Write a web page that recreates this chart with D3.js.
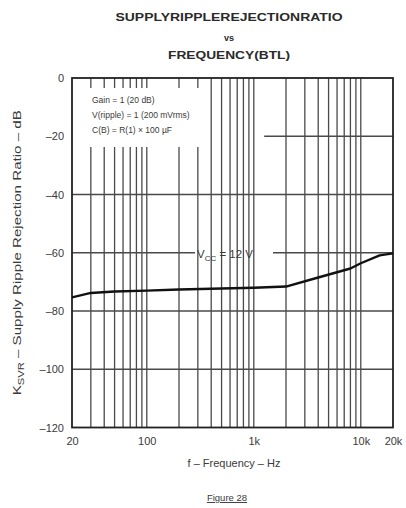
<!DOCTYPE html>
<html>
<head>
<meta charset="utf-8">
<script src="https://cdn.jsdelivr.net/npm/d3@7/dist/d3.min.js"></script>
<style>
  html, body { margin: 0; padding: 0; background: #fff; }
  svg { display: block; font-family: "Liberation Sans", Arial, sans-serif; }
</style>
</head>
<body>
<svg id="chart" width="406" height="508"></svg>
<script>
// Supply ripple rejection ratio of the BTL output versus frequency, VCC = 12 V
const freqHz = [20, 30, 50, 100, 200, 500, 1000, 2000, 4000, 8000, 10000, 15000, 20000];
const ksvrDb = [-75.3, -73.8, -73.3, -73.0, -72.6, -72.3, -72.0, -71.6, -68.5, -65.4, -63.6, -60.9, -60.2];

const yTicks = [0, -20, -40, -60, -80, -100, -120];
const xTickValues = [20, 100, 1000, 10000, 20000];
const xTickLabels = ["20", "100", "1k", "10k", "20k"];

const titleLines = ["SUPPLYRIPPLEREJECTIONRATIO", "vs", "FREQUENCY(BTL)"];
const conditionLines = ["Gain = 1 (20 dB)", "V(ripple) = 1 (200 mVrms)", "C(B) = R(1) × 100 µF"];

const svg = d3.select("#chart");
const plot = { left: 72, right: 393, top: 78, bottom: 427.5 };

const x = d3.scaleLog().domain([20, 20000]).range([plot.left, plot.right]);
const y = d3.scaleLinear().domain([-120, 0]).range([plot.bottom, plot.top]);

const gridColor = "#4a4a4a";
const textColor = "#3a3a3a";

// Title
svg.append("g").selectAll("text").data(titleLines).join("text")
  .attr("x", 229)
  .attr("y", (d, i) => [21, 41, 59][i])
  .attr("text-anchor", "middle")
  .attr("font-size", (d, i) => i === 1 ? 9 : 10.5)
  .attr("font-weight", "bold")
  .attr("fill", "#2a2a2a")
  .attr("textLength", (d, i) => [227, null, 122][i])
  .attr("lengthAdjust", "spacingAndGlyphs")
  .text(d => d);

// Horizontal grid
const hGrid = svg.append("g");
hGrid.selectAll("line").data(yTicks.filter(v => v !== 0 && v !== -120)).join("line")
  .attr("x1", d => d === -20 ? x(1250) : plot.left)
  .attr("x2", plot.right)
  .attr("y1", d => y(d)).attr("y2", d => y(d))
  .attr("stroke", gridColor).attr("stroke-width", 1.3);

// White background behind the curve label (breaks the horizontal line only)
svg.append("rect")
  .attr("x", 195).attr("y", 246).attr("width", 78).attr("height", 14)
  .attr("fill", "#fff");

// Vertical grid: every 1..9 multiple of each decade
const vGridFreqs = x.ticks().filter(f => f > 20 && f < 20000);
svg.append("g").selectAll("line").data(vGridFreqs).join("line")
  .attr("x1", d => x(d)).attr("x2", d => x(d))
  .attr("y1", plot.top).attr("y2", plot.bottom)
  .attr("stroke", gridColor).attr("stroke-width", 1.3);

// Box holding the test conditions
svg.append("rect")
  .attr("x", plot.left + 2).attr("y", 88).attr("width", 131).attr("height", 59)
  .attr("fill", "#fff");

svg.append("g").selectAll("text").data(conditionLines).join("text")
  .attr("x", 92)
  .attr("y", (d, i) => 103 + i * 15)
  .attr("font-size", 8.5)
  .attr("fill", textColor)
  .text(d => d);

// Frame
svg.append("rect")
  .attr("x", plot.left).attr("y", plot.top)
  .attr("width", plot.right - plot.left).attr("height", plot.bottom - plot.top)
  .attr("fill", "none").attr("stroke", "#222").attr("stroke-width", 1.8);

// Y axis labels
const yAxis = d3.axisLeft(y).tickValues(yTicks).tickSize(0).tickPadding(8)
  .tickFormat(d => d === 0 ? "0" : "–" + Math.abs(d));
const yG = svg.append("g").attr("transform", `translate(${plot.left},0)`).call(yAxis);
yG.select(".domain").remove();
yG.selectAll("text").attr("font-size", 11).attr("fill", textColor)
  .attr("font-family", "'Liberation Sans', Arial, sans-serif");

// X axis labels
const xAxis = d3.axisBottom(x).tickValues(xTickValues).tickSize(0).tickPadding(10)
  .tickFormat((d, i) => xTickLabels[i]);
const xG = svg.append("g").attr("transform", `translate(0,${plot.bottom})`).call(xAxis);
xG.select(".domain").remove();
xG.selectAll("text").attr("font-size", 11).attr("fill", textColor)
  .attr("font-family", "'Liberation Sans', Arial, sans-serif");

// Curve
const line = d3.line().x((d, i) => x(freqHz[i])).y(d => y(d));
svg.append("path")
  .datum(ksvrDb)
  .attr("d", line)
  .attr("fill", "none")
  .attr("stroke", "#111")
  .attr("stroke-width", 2.4)
  .attr("stroke-linejoin", "round");

// Curve label
const lbl = svg.append("text").attr("x", 197).attr("y", 258)
  .attr("font-size", 11.5).attr("fill", textColor);
lbl.append("tspan").text("V");
lbl.append("tspan").attr("font-size", 8).attr("dy", 3).text("CC");
lbl.append("tspan").attr("dy", -3).text(" = 12 V");

// Axis titles
const yt = svg.append("text")
  .attr("transform", `translate(21,${(plot.top + plot.bottom) / 2}) rotate(-90)`)
  .attr("text-anchor", "middle").attr("font-size", 11.5).attr("fill", textColor)
  .attr("textLength", 285).attr("lengthAdjust", "spacingAndGlyphs");
yt.append("tspan").text("K");
yt.append("tspan").attr("font-size", 8.5).attr("dy", 3).text("SVR");
yt.append("tspan").attr("dy", -3).text(" – Supply Ripple Rejection Ratio – dB");

svg.append("text")
  .attr("x", 234).attr("y", 467)
  .attr("text-anchor", "middle").attr("font-size", 11).attr("fill", textColor)
  .text("f – Frequency – Hz");

svg.append("text")
  .attr("x", 227).attr("y", 501)
  .attr("text-anchor", "middle").attr("font-size", 9.5).attr("fill", textColor)
  .attr("text-decoration", "underline")
  .text("Figure 28");
</script>
</body>
</html>
